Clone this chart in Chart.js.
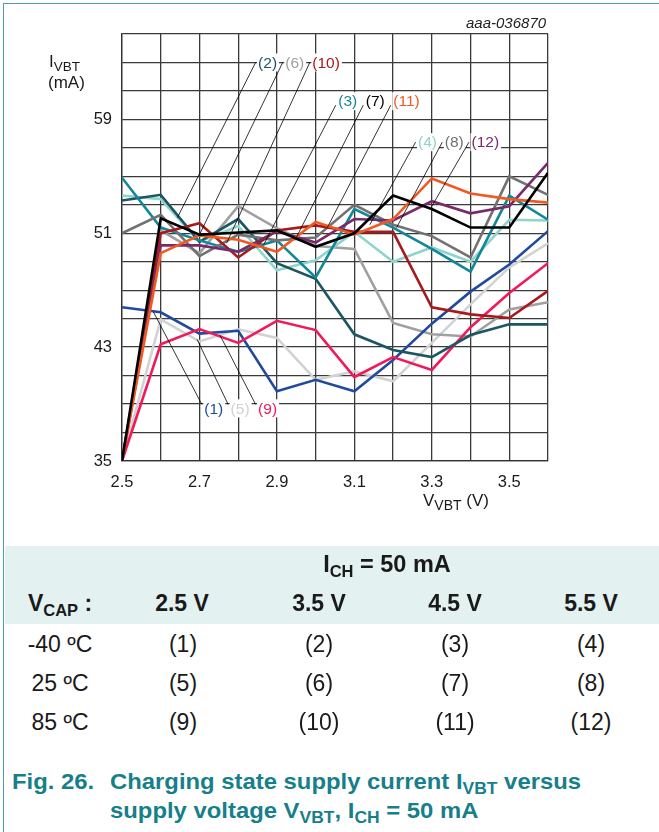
<!DOCTYPE html>
<html><head><meta charset="utf-8">
<script src="https://cdn.jsdelivr.net/npm/chart.js@4.4.0/dist/chart.umd.min.js"></script>
<style>
body{margin:0;background:#fff;width:659px;height:832px;overflow:hidden;position:relative;font-family:"Liberation Sans",Arial,sans-serif;}
#frameTop{position:absolute;left:4px;top:3px;width:655px;height:0;border-top:1.6px solid #4b9fa5;}
#frameLeft{position:absolute;left:3px;top:3px;width:0;height:829px;border-left:1.6px solid #4b9fa5;}
#band{position:absolute;left:5px;top:546px;width:654px;height:78px;background:#e4f1f1;}
.t{position:absolute;white-space:nowrap;line-height:1;color:#1a1a1a;}
.c{transform:translateX(-50%);}
.sub{position:relative;}
.tb{font-size:23px;}
.b{font-weight:bold;}
.cap{font-size:22.5px;font-weight:bold;color:#177f89;transform:scaleX(1.06);transform-origin:0 0;}
</style></head><body>
<div id="frameTop"></div><div id="frameLeft"></div>
<canvas id="c" width="659" height="540" style="position:absolute;left:0;top:0"></canvas>

<div class="t" style="left:466px;top:15px;font-size:15px;font-style:italic;color:#222">aaa-036870</div>
<div class="t" style="left:49px;top:53px;font-size:17px">I<span class="sub" style="font-size:13.5px;top:4px">VBT</span></div>
<div class="t" style="left:48px;top:74px;font-size:17px">(mA)</div>
<div class="t" style="left:423px;top:492px;font-size:17px">V<span class="sub" style="font-size:14px;top:4px">VBT</span> (V)</div>

<div id="band"></div>
<div class="t c b" style="left:387px;top:553px;font-size:23.5px">I<span class="sub" style="font-size:16.5px;top:5px">CH</span> = 50 mA</div>
<div class="t c b tb" style="left:60px;top:592px">V<span class="sub" style="font-size:16.5px;top:5px">CAP</span> :</div>
<div class="t c b tb" style="left:182px;top:592px">2.5 V</div>
<div class="t c b tb" style="left:319px;top:592px">3.5 V</div>
<div class="t c b tb" style="left:455px;top:592px">4.5 V</div>
<div class="t c b tb" style="left:591px;top:592px">5.5 V</div>

<div class="t c tb" style="left:60px;top:633px">-40 ºC</div>
<div class="t c tb" style="left:183px;top:633px">(1)</div>
<div class="t c tb" style="left:319px;top:633px">(2)</div>
<div class="t c tb" style="left:455px;top:633px">(3)</div>
<div class="t c tb" style="left:591px;top:633px">(4)</div>

<div class="t c tb" style="left:60px;top:672px">25 ºC</div>
<div class="t c tb" style="left:183px;top:672px">(5)</div>
<div class="t c tb" style="left:319px;top:672px">(6)</div>
<div class="t c tb" style="left:455px;top:672px">(7)</div>
<div class="t c tb" style="left:591px;top:672px">(8)</div>

<div class="t c tb" style="left:60px;top:711px">85 ºC</div>
<div class="t c tb" style="left:183px;top:711px">(9)</div>
<div class="t c tb" style="left:319px;top:711px">(10)</div>
<div class="t c tb" style="left:455px;top:711px">(11)</div>
<div class="t c tb" style="left:591px;top:711px">(12)</div>

<div class="t cap" style="left:12px;top:771px">Fig. 26.</div>
<div class="t cap" style="left:110px;top:771px">Charging state supply current I<span class="sub" style="font-size:16.5px;top:5px">VBT</span> versus</div>
<div class="t cap" style="left:110px;top:800px">supply voltage V<span class="sub" style="font-size:16.5px;top:5px">VBT</span>, I<span class="sub" style="font-size:16.5px;top:5px">CH</span> = 50 mA</div>

<script>
// ---- data ----
const vbt = [2.5, 2.6, 2.7, 2.8, 2.9, 3.0, 3.1, 3.2, 3.3, 3.4, 3.5, 3.6];
const s1  = [45.8, 45.45, 43.95, 44.15, 39.9, 40.7, 39.9, 42.1, 44.65, 46.9, 48.8, 51.15];
const s2  = [53.3, 53.7, 50.4, 52.0, 48.9, 47.8, 43.9, 42.8, 42.3, 43.85, 44.6, 44.6];
const s3  = [54.9, 51.4, 50.5, 49.7, 50.5, 47.9, 52.7, 51.4, 49.9, 48.3, 53.65, 51.95];
const s4  = [53.65, 53.4, 50.4, 51.5, 48.4, 49.1, 51.1, 49.0, 50.0, 49.0, 51.95, 51.9];
const s5  = [35, 44.95, 43.4, 44.25, 43.65, 40.7, 41.3, 40.6, 43.3, 46.0, 48.6, 50.3];
const s6  = [35, 51.2, 49.6, 52.9, 51.35, 50.1, 49.9, 44.7, 43.9, 43.75, 45.65, 46.15];
const s7  = [35, 52.05, 50.9, 51.05, 51.2, 50.05, 51.0, 53.65, 52.7, 51.4, 51.4, 55.25];
const s8  = [51.0, 52.3, 49.4, 50.9, 50.5, 50.7, 53.0, 51.6, 50.8, 49.3, 55.0, 53.7];
const s9  = [35, 43.2, 44.27, 43.3, 44.85, 44.2, 40.9, 42.3, 41.4, 44.4, 46.8, 48.9];
const s10 = [35, 51.0, 51.7, 49.3, 51.2, 51.55, 51.1, 51.1, 45.8, 45.3, 45.05, 46.95];
const s11 = [35, 49.6, 50.85, 50.55, 49.7, 51.8, 50.9, 52.0, 54.85, 53.8, 53.4, 53.15];
const s12 = [35, 50.15, 50.15, 49.7, 51.15, 50.35, 52.0, 51.9, 53.25, 52.4, 52.9, 55.95];
const seriesLabels = ['(1)','(2)','(3)','(4)','(5)','(6)','(7)','(8)','(9)','(10)','(11)','(12)'];
const colors = ['#1f4a9e','#1c5663','#13879a','#8fd4cd','#d2d2d2','#a0a0a0','#000000','#727272','#f1195b','#a8191b','#f05a22','#7a2a6b'];
const yTickLabels = [35, 43, 51, 59];
const xTickLabels = ['2.5','2.7','2.9','3.1','3.3','3.5'];
// callouts: label anchor (ax, ay) and leader end (ex, ey), in data units
const callouts = [
  {i:1, ax:2.845, ay:63.0, ex:2.643, ey:52.1, dy:0},
  {i:5, ax:2.915, ay:63.0, ex:2.70, ey:50.9, dy:0},
  {i:9, ax:2.985, ay:63.0, ex:2.77, ey:50.3, dy:0},
  {i:2, ax:3.052, ay:60.0, ex:2.866, ey:50.2, dy:-4},
  {i:6, ax:3.123, ay:60.0, ex:2.95, ey:50.7, dy:-4},
  {i:10, ax:3.194, ay:60.0, ex:3.03, ey:51.4, dy:-4},
  {i:3, ax:3.258, ay:57.4, ex:3.14, ey:51.6, dy:0},
  {i:7, ax:3.327, ay:57.4, ex:3.209, ey:51.4, dy:0},
  {i:11, ax:3.396, ay:57.4, ex:3.30, ey:52.9, dy:0},
  {i:0, ax:2.706, ay:38.98, ex:2.581, ey:45.48, dy:4},
  {i:4, ax:2.774, ay:38.98, ex:2.694, ey:43.54, dy:4},
  {i:8, ax:2.845, ay:38.98, ex:2.753, ey:43.84, dy:4}
];

const allSeries = [s1,s2,s3,s4,s5,s6,s7,s8,s9,s10,s11,s12];
const drawOrder = [4,5,3,0,8,1,2,7,9,11,10,6]; // later = on top
const datasets = allSeries.map((s, k) => ({
  label: seriesLabels[k],
  data: vbt.map((x, j) => ({x: x, y: s[j]})),
  borderColor: colors[k],
  backgroundColor: colors[k],
  borderWidth: 2.6,
  pointRadius: 0,
  tension: 0,
  fill: false,
  order: 20 - drawOrder.indexOf(k)
}));

const FONT = '"Liberation Sans", Arial, sans-serif';
const calloutPlugin = {
  id: 'callouts',
  afterDatasetsDraw(chart) {
    const {ctx, scales: {x, y}} = chart;
    ctx.save();
    ctx.font = '15.5px ' + FONT;
    ctx.textBaseline = 'middle';
    const items = callouts.map(c => {
      const px = x.getPixelForValue(c.ax), py = y.getPixelForValue(c.ay);
      return {c, px, py, tx: px + 2.5, ty: py + c.dy, w: ctx.measureText(seriesLabels[c.i]).width};
    });
    ctx.fillStyle = '#fff';
    items.forEach(it => ctx.fillRect(it.tx - 1, it.ty - 9, it.w + 3, 18));
    ctx.strokeStyle = '#000';
    ctx.lineWidth = 0.8;
    items.forEach(it => {
      ctx.beginPath();
      ctx.moveTo(it.px, it.py);
      ctx.lineTo(x.getPixelForValue(it.c.ex), y.getPixelForValue(it.c.ey));
      ctx.stroke();
    });
    items.forEach(it => {
      ctx.fillStyle = colors[it.c.i];
      ctx.fillText(seriesLabels[it.c.i], it.tx, it.ty + 1);
    });
    ctx.restore();
  }
};

new Chart(document.getElementById('c'), {
  type: 'line',
  data: {datasets},
  options: {
    responsive: false,
    animation: false,
    devicePixelRatio: 1,
    layout: {padding: {top: 34, right: 111, left: 0, bottom: 0}},
    plugins: {legend: {display: false}, tooltip: {enabled: false}},
    scales: {
      x: {
        type: 'linear', min: 2.5, max: 3.6,
        afterFit(s) { s.height = 79; },
        grid: {color: '#3a3a3a', lineWidth: 1.3, drawTicks: false},
        border: {color: '#333', width: 1.3},
        ticks: {
          stepSize: 0.1, autoSkip: false, maxRotation: 0, padding: 12,
          color: '#1a1a1a', font: {family: FONT, size: 16.5},
          callback(v) { const t = (Math.round(v * 10) / 10).toFixed(1); return xTickLabels.includes(t) ? t : ''; }
        }
      },
      y: {
        type: 'linear', min: 35, max: 65,
        afterFit(s) { s.width = 122; },
        grid: {color: '#3a3a3a', lineWidth: 1.3, drawTicks: false},
        border: {color: '#333', width: 1.3},
        ticks: {
          stepSize: 2, autoSkip: false, padding: 10,
          color: '#1a1a1a', font: {family: FONT, size: 16.5},
          callback(v) { const r = Math.round(v); return yTickLabels.includes(r) ? String(r) : ''; }
        }
      }
    }
  },
  plugins: [calloutPlugin]
});
</script>
</body></html>
